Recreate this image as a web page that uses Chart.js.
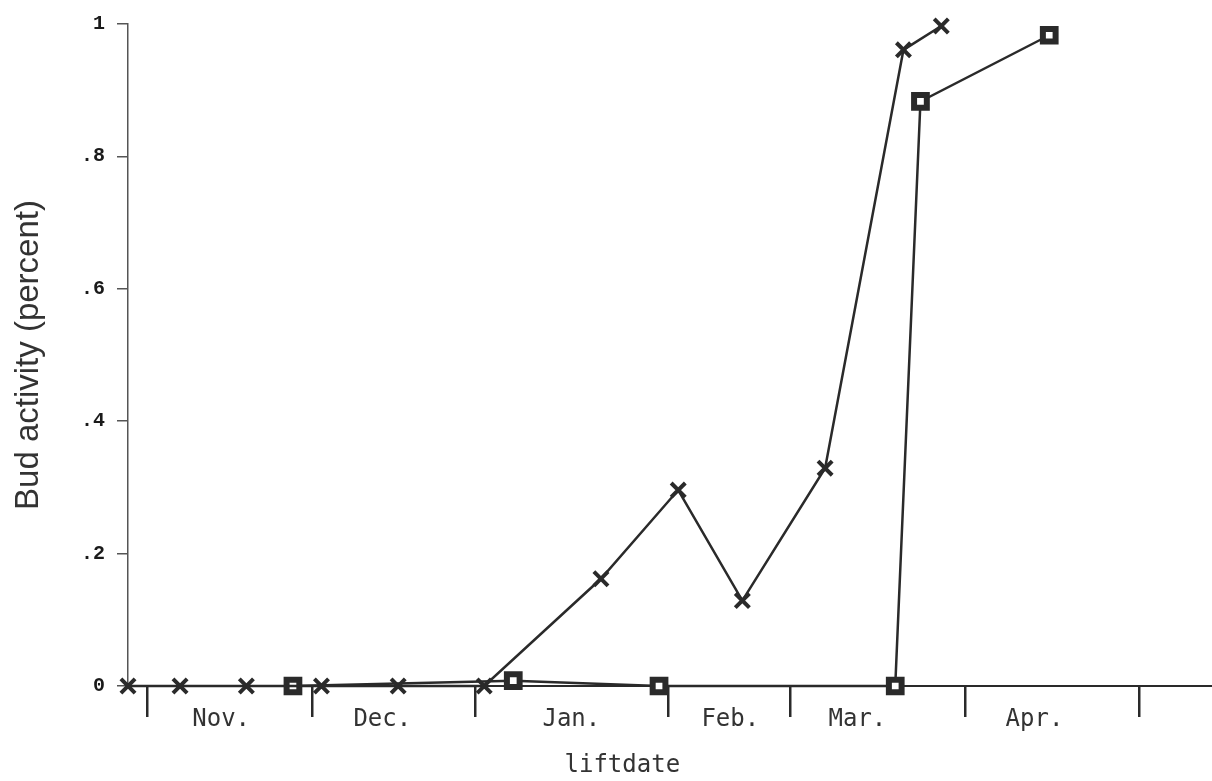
<!DOCTYPE html>
<html>
<head>
<meta charset="utf-8">
<script src="https://cdn.jsdelivr.net/npm/chart.js@4.4.1/dist/chart.umd.min.js"></script>
<style>
  html, body { margin: 0; padding: 0; background: #fff; }
  #chart { display: block; }
</style>
</head>
<body>
<canvas id="chart" width="1212" height="781"></canvas>
<script>
// liftdate as days from the Nov. tick
const crossDays     = [-3.5, 6.0, 18.1, 31.8, 45.8, 61.5, 82.8, 96.9, 108.6, 123.7, 138.0, 144.9]
const crossActivity = [0, 0, 0, 0, 0, 0, 0.162, 0.296, 0.129, 0.329, 0.961, 0.997]
const squareDays     = [26.6, 66.8, 93.4, 136.5, 141.1, 164.6]
const squareActivity = [0, 0.008, 0, 0, 0.883, 0.983]

// month boundary ticks and the labels sitting between them
const monthTicks   = [0, 30.1, 59.9, 95.1, 117.3, 149.3, 181.0]
const monthLabels  = ['Nov.', 'Dec.', 'Jan.', 'Feb.', 'Mar.', 'Apr.']
const monthLabelAt = [13.5, 42.9, 77.4, 106.4, 129.6, 161.9]
const yTicks = [0, 0.2, 0.4, 0.6, 0.8, 1]

const INK = '#2a2a2a'

const toPoints = (xs, ys) => xs.map((x, i) => ({ x, y: ys[i] }))

// ── x title sits left of centre in the original, so draw it by hand ─────────
const xTitle = {
  id: 'xTitle',
  afterDraw(chart) {
    const { ctx, scales } = chart
    ctx.save()
    ctx.font = '24px "DejaVu Sans Mono", monospace'
    ctx.fillStyle = '#333'
    ctx.textAlign = 'center'
    ctx.textBaseline = 'middle'
    ctx.fillText('liftdate', scales.x.getPixelForValue(86.7), 766)
    ctx.restore()
  }
}

new Chart(document.getElementById('chart'), {
  type: 'line',
  data: {
    datasets: [
      {
        data: toPoints(crossDays, crossActivity),
        borderColor: INK,
        borderWidth: 2.5,
        pointStyle: 'crossRot',
        pointRadius: 10,
        pointBorderWidth: 4,
        pointBorderColor: INK,
        tension: 0,
        clip: false
      },
      {
        data: toPoints(squareDays, squareActivity),
        borderColor: INK,
        borderWidth: 2.5,
        pointStyle: 'rect',
        pointRadius: 9,
        pointBorderWidth: 6,
        pointBorderColor: INK,
        pointBackgroundColor: '#fff',
        tension: 0,
        clip: false
      }
    ]
  },
  options: {
    responsive: false,
    animation: false,
    devicePixelRatio: 1,
    layout: { autoPadding: false, padding: { top: 21, right: 0, left: 0, bottom: 0 } },
    plugins: { legend: { display: false }, tooltip: { enabled: false } },
    scales: {
      x: {
        type: 'linear',
        min: -3.5,
        max: 194.3,
        afterBuildTicks: s => {
          s.ticks = [...monthTicks, ...monthLabelAt].sort((a, b) => a - b).map(v => ({ value: v }))
        },
        afterFit: s => { s.height = 95; s.paddingRight = 0; s.paddingLeft = 0 },
        border: { color: INK, width: 2 },
        grid: {
          drawOnChartArea: false,
          tickLength: 31,
          lineWidth: 2.5,
          color: c => monthTicks.includes(c.tick && c.tick.value) ? INK : 'rgba(0,0,0,0)'
        },
        ticks: {
          autoSkip: false,
          maxRotation: 0,
          padding: -12,
          color: '#333',
          font: { family: '"DejaVu Sans Mono", monospace', size: 24 },
          callback: v => {
            const i = monthLabelAt.indexOf(v)
            return i >= 0 ? monthLabels[i] : ''
          }
        }
      },
      y: {
        min: 0,
        max: 1,
        afterBuildTicks: s => { s.ticks = yTicks.map(v => ({ value: v })) },
        afterFit: s => { s.width = 128 },
        border: { color: '#555', width: 1.5 },
        grid: { drawOnChartArea: false, tickLength: 11, color: '#555', lineWidth: 1.5 },
        ticks: {
          padding: 12,
          color: '#1a1a1a',
          font: { family: '"Liberation Mono", monospace', size: 20, weight: 'bold' },
          callback: v => (v === 0 || v === 1) ? String(v) : v.toFixed(1).slice(1)
        },
        title: {
          display: true,
          text: 'Bud activity (percent)',
          color: '#333',
          padding: { top: 9, bottom: 0 },
          font: { family: '"Liberation Sans", sans-serif', size: 33 }
        }
      }
    }
  },
  plugins: [xTitle]
})
</script>
</body>
</html>
